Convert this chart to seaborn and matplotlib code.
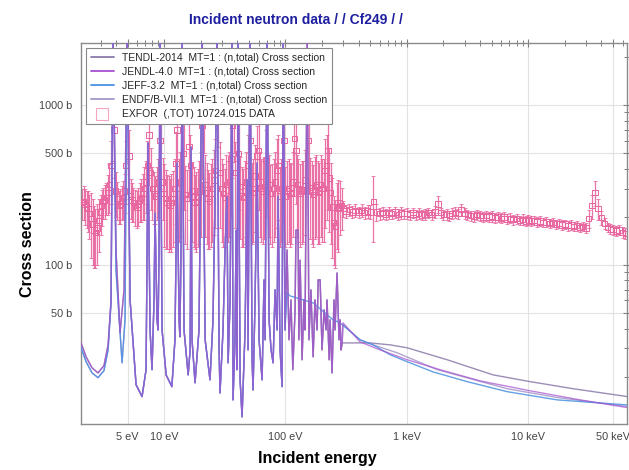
import matplotlib
matplotlib.use("Agg")
import matplotlib.pyplot as plt
from matplotlib.lines import Line2D
from matplotlib.ticker import FixedLocator, FixedFormatter, LogLocator, NullFormatter
import pandas as pd
import seaborn as sns

# ---------------- data ----------------
title = "Incident neutron data / / Cf249 / /"

# low-energy part (below the 5 eV resonance), two variants
low_a_e = [2.07, 2.28, 2.55, 2.86, 3.20, 3.46, 3.66, 3.80, 4.02, 4.34, 4.68, 4.96]
low_a_xs = [32.5, 26.6, 22.7, 21.1, 23.4, 31.6, 60.4, 3000, 124, 37.6, 69.8, 3000]
low_b_e = [2.07, 2.28, 2.55, 2.86, 3.20, 3.46, 3.66, 3.80, 4.02, 4.51, 4.77, 4.96]
low_b_xs = [30.3, 24.8, 21.1, 19.7, 21.8, 29.4, 57.9, 3000, 93.1, 24.4, 45.3, 3000]

# resolved resonances 5 eV - 100 eV (all libraries)
res1_e = [5.25, 5.88, 6.59, 7.11, 7.38, 7.67, 7.96, 8.27, 8.43, 8.75, 8.93, 9.09, 9.27,
          9.63, 10.4, 11.6, 12.3, 12.8, 13.3, 13.5, 13.8, 14.1, 14.6, 15.8, 16.4, 16.7,
          17.0, 18.0, 19.4, 20.6, 21.8, 23.9, 25.3, 26.3, 27.3, 28.4, 28.9, 30.6, 31.8,
          33.0, 33.7, 35.0, 36.3, 37.0, 38.4, 39.2, 39.9, 40.7, 42.3, 43.9, 46.5, 48.3,
          49.2, 51.1, 53.1, 54.1, 56.2, 58.4, 60.6, 64.2, 66.6, 67.9, 70.5, 73.3, 76.1,
          79.1, 82.1, 85.3, 86.9, 90.3, 93.8, 95.5, 99.2]
res1_xs = [60.4, 17.8, 15.0, 22.1, 579, 39.2, 22.1, 60.4, 211, 45.3, 39.2, 124, 3000,
           39.2, 20.5, 17.3, 34.0, 434, 45.3, 35.5, 124, 3000, 39.2, 20.5, 29.4, 546,
           34.0, 18.3, 39.2, 3000, 34.0, 19.1, 45.3, 266, 3000, 29.4, 15.8, 39.2, 124,
           266, 24.4, 60.4, 3000, 14.3, 34.0, 165, 22.1, 3000, 19.1, 11.2, 39.2, 340,
           29.4, 3000, 25.5, 16.5, 60.4, 434, 34.0, 19.1, 80.6, 34.0, 3000, 45.3, 29.4,
           24.4, 69.8, 39.2, 266, 29.4, 17.3, 3000, 39.2]

# resolved resonances 100 eV - 300 eV (TENDL, JENDL, ENDF/B)
res2_e = [103, 107, 111, 115, 120, 122, 127, 129, 132, 137, 142, 145, 151, 156, 162,
          169, 175, 182, 186, 193, 200, 208, 216, 220, 229, 233, 242, 251, 256, 266,
          276, 282, 287, 293]
res2_xs = [124, 34.0, 60.4, 22.1, 52.3, 165, 165, 34.0, 107, 25.5, 60.4, 39.2, 3000,
           34.0, 69.8, 26.6, 60.4, 39.2, 80.6, 80.6, 29.4, 52.3, 39.2, 60.4, 25.5,
           45.3, 21.1, 60.4, 39.2, 89.0, 34.0, 45.3, 29.4, 32.5]

# smooth (unresolved / fast) parts
tendl_hi_e = [497, 728, 1004, 2144, 5130, 10350, 23380, 65160]
tendl_hi_xs = [32.5, 31.6, 30.3, 25.5, 20.5, 18.6, 16.8, 15.0]
jendl_hi_e = [298, 411, 601, 1004, 1877, 4009, 10350, 26710, 65160]
jendl_hi_xs = [43.4, 33.0, 29.4, 25.5, 22.1, 18.8, 16.3, 14.3, 12.8]
jeff_hi_e = [103, 109, 169, 247, 282, 411, 527, 728, 1004, 1644, 3133, 6690, 17270, 65160]
jeff_hi_xs = [66.8, 64.0, 57.9, 45.3, 43.4, 34.0, 31.6, 27.4, 24.8, 21.4, 18.6, 16.1, 14.3, 13.3]
endf_hi_e = [298, 411, 527, 830, 1775, 6690, 17270, 65160]
endf_hi_xs = [42.2, 34.0, 31.6, 28.2, 22.1, 16.8, 14.8, 13.0]

# EXFOR 10724.015 total cross section (main grid)
exfor_e = [2.12, 2.24, 2.36, 2.50, 2.65, 2.80, 3.00, 3.15, 3.35, 3.55, 3.75, 4.00, 4.25, 4.50,
           4.75, 5.00, 5.30, 5.60, 6.00, 6.30, 6.70, 7.10, 7.50, 8.00, 8.50, 9.00, 9.50,
           10.0, 10.6, 11.2, 11.8, 12.5, 13.2, 14.0, 15.0, 16.0, 17.0, 18.0, 19.0, 20.0,
           21.2, 22.4, 23.6, 25.0, 26.5, 28.0, 30.0, 31.5, 33.5, 35.5, 37.5, 40.0, 42.5,
           45.0, 47.5, 50.0, 53.0, 56.0, 60.0, 63.0, 67.0, 71.0, 75.0, 80.0, 85.0, 90.0, 95.0,
           100, 106, 112, 118, 125, 132, 140, 150, 160, 170, 180, 190, 200, 212, 224, 236,
           250, 265, 280, 300, 315, 335, 355, 375, 400, 425, 450, 475, 500, 530, 560, 600,
           630, 670, 710, 750, 800, 850, 900, 950,
           1000, 1060, 1120, 1180, 1250, 1320, 1400, 1500, 1600, 1700, 1800, 1900, 2000,
           2120, 2240, 2360, 2500, 2650, 2800, 3000, 3150, 3350, 3550, 3750, 4000, 4250,
           4500, 4750, 5000, 5300, 5600, 6000, 6300, 6700, 7100, 7500, 8000, 8500, 9000, 9500,
           10000, 10600, 11200, 11800, 12500, 13200, 14000, 15000, 16000, 17000, 18000,
           19000, 20000, 21200, 22400, 23600, 25000, 26500, 28000, 30000, 31500, 33500,
           35500, 37500, 40000, 42500, 45000, 47500, 50000, 53000, 56000, 60000, 63000]
exfor_xs = [245, 238, 225, 195, 165, 170, 215, 250, 265, 320, 900, 290, 235, 250,
            290, 850, 270, 245, 230, 255, 280, 330, 650, 300, 270, 330, 1100,
            280, 245, 235, 260, 430, 300, 1000, 275, 550, 290, 245, 265, 330,
            1000, 285, 250, 300, 390, 1100, 300, 265, 295, 460, 1000, 900, 310,
            265, 330, 1000, 285, 360, 520, 300, 310, 1000, 280, 300, 390, 270, 950,
            270, 300, 285, 620, 320, 280, 295, 1000, 305, 275, 320, 285, 300, 390, 520, 285,
            185, 225, 245, 225, 218, 222, 215, 220, 214, 219, 212, 218, 215, 250, 214, 210,
            213, 208, 212, 209, 214, 207, 211, 209,
            210, 207, 212, 206, 210, 205, 208, 212, 206, 215, 240, 212, 206,
            208, 204, 210, 213, 209, 222, 210, 206, 204, 202, 206, 203, 200,
            204, 199, 202, 198, 200, 196, 199, 194, 196, 192, 195, 190, 193, 188,
            191, 188, 190, 186, 188, 184, 186, 182, 184, 180, 182,
            178, 180, 176, 178, 174, 176, 172, 174, 170, 195, 235,
            285, 225, 198, 182, 172, 168, 166, 163, 165, 160, 158]
exfor_err = [55, 60, 65, 85, 70, 70, 60, 55, 60, 110, 450, 90, 55, 60,
             80, 400, 75, 60, 60, 70, 90, 120, 300, 110, 90, 130, 600,
             150, 120, 110, 130, 250, 160, 500, 140, 300, 150, 120, 135, 180,
             500, 150, 125, 160, 220, 550, 160, 135, 155, 260, 500, 450, 165,
             135, 180, 500, 150, 200, 300, 160, 165, 500, 145, 160, 220, 140, 450,
             140, 160, 150, 350, 170, 150, 155, 500, 160, 145, 170, 150, 160, 220, 300, 150,
             85, 100, 90, 25, 20, 20, 18, 20, 18, 20, 18, 20, 22, 110, 25, 18,
             18, 16, 18, 16, 18, 16, 18, 16,
             16, 15, 16, 15, 16, 15, 16, 16, 15, 18, 30, 16, 15,
             16, 15, 16, 16, 15, 20, 16, 15, 15, 15, 15, 15, 14,
             15, 14, 15, 14, 14, 14, 14, 14, 14, 13, 14, 13, 14, 13,
             13, 13, 13, 13, 13, 12, 13, 12, 12, 12, 12,
             12, 12, 12, 12, 12, 12, 12, 12, 12, 25, 40,
             50, 35, 20, 15, 12, 12, 12, 12, 12, 12, 12]

# EXFOR points lying between the above in the resonance region
exfor2_e = [2.18, 2.30, 2.43, 2.58, 2.72, 2.90, 3.07, 3.25, 3.45, 3.65, 3.87, 4.12, 4.37,
            4.62, 4.87, 5.15, 5.45, 5.80, 6.15, 6.50, 6.90, 7.30, 7.75, 8.25, 8.75, 9.25,
            9.75, 10.3, 10.9, 11.5, 12.2, 12.8, 13.6, 14.5, 15.5, 16.5, 17.5, 18.5, 19.5,
            20.6, 21.8, 23.0, 24.3, 25.8, 27.2, 29.0, 30.7, 32.5, 34.5, 36.5, 38.7, 41.2,
            43.7, 46.2, 48.7, 51.5, 54.5, 58.0, 61.5, 65.0, 69.0, 73.0, 77.5, 82.5, 87.5,
            92.5, 97.5, 103, 109, 115, 122, 128, 136, 145, 155, 165, 175, 185, 195, 206,
            218, 230, 243, 258, 272, 290]
exfor2_xs = [250, 230, 210, 180, 160, 190, 235, 255, 285, 420, 700, 260, 240,
             265, 420, 480, 255, 235, 240, 265, 300, 420, 380, 280, 300, 600,
             330, 260, 240, 245, 300, 700, 330, 500, 260, 420, 270, 250, 290,
             750, 320, 260, 280, 340, 800, 380, 280, 320, 330, 750, 380, 500,
             270, 290, 420, 600, 300, 480, 330, 290, 450, 320, 280, 330, 420,
             300, 600, 290, 280, 330, 520, 300, 290, 340, 600, 290, 310, 290, 320, 300,
             420, 350, 230, 175, 230, 235]
exfor2_err = [60, 60, 65, 80, 65, 70, 60, 60, 80, 180, 350, 70, 60,
              70, 180, 220, 70, 60, 65, 80, 110, 180, 160, 100, 110, 300,
              140, 135, 120, 125, 160, 380, 180, 280, 135, 230, 140, 130, 155,
              400, 170, 135, 150, 185, 420, 210, 150, 170, 180, 400, 210, 280,
              140, 155, 230, 320, 160, 260, 180, 155, 250, 170, 150, 180, 230,
              160, 320, 155, 150, 180, 280, 160, 155, 185, 320, 155, 165, 155, 170, 160,
              230, 190, 120, 80, 110, 70]

libraries = ["TENDL-2014", "JENDL-4.0", "JEFF-3.2", "ENDF/B-VII.1"]
legend_labels = ["TENDL-2014  MT=1 : (n,total) Cross section",
                 "JENDL-4.0  MT=1 : (n,total) Cross section",
                 "JEFF-3.2  MT=1 : (n,total) Cross section",
                 "ENDF/B-VII.1  MT=1 : (n,total) Cross section",
                 "EXFOR  (,TOT) 10724.015 DATA"]

x_tick_vals = [5, 10, 100, 1000, 10000, 50000]
x_tick_labels = ["5 eV", "10 eV", "100 eV", "1 keV", "10 keV", "50 keV"]
y_tick_vals = [50, 100, 500, 1000]
y_tick_labels = ["50 b", "100 b", "500 b", "1000 b"]

# ---------------- assemble curves ----------------
curves = {
    "TENDL-2014": (low_a_e + res1_e + res2_e + tendl_hi_e,
                   low_a_xs + res1_xs + res2_xs + tendl_hi_xs),
    "JENDL-4.0": (low_a_e + res1_e + res2_e + jendl_hi_e,
                  low_a_xs + res1_xs + res2_xs + jendl_hi_xs),
    "JEFF-3.2": (low_b_e + res1_e + jeff_hi_e,
                 low_b_xs + res1_xs + jeff_hi_xs),
    "ENDF/B-VII.1": (low_b_e + res1_e + res2_e + endf_hi_e,
                     low_b_xs + res1_xs + res2_xs + endf_hi_xs),
}
colors = {"TENDL-2014": "#8a7aaa", "JENDL-4.0": "#a64fd0",
          "JEFF-3.2": "#4a90e2", "ENDF/B-VII.1": "#a496c8"}
alphas = {"TENDL-2014": 0.85, "JENDL-4.0": 0.7, "JEFF-3.2": 0.85, "ENDF/B-VII.1": 0.85}
draw_order = ["ENDF/B-VII.1", "TENDL-2014", "JEFF-3.2", "JENDL-4.0"]
pink = "#e8649e"

sns.set_theme(style="white")
plt.rcParams['font.family'] = ['Liberation Sans', 'DejaVu Sans']

fig = plt.figure(figsize=(6.29, 4.70), dpi=100)
ax = fig.add_axes([81 / 629, 46 / 470, 546 / 629, 381 / 470])
ax.set_xscale('log')
ax.set_yscale('log')

# EXFOR points with error bars
for ee, yy, er in [(exfor_e, exfor_xs, exfor_err), (exfor2_e, exfor2_xs, exfor2_err)]:
    ax.errorbar(ee, yy, yerr=er, fmt='none', ecolor=pink,
                elinewidth=0.9, capsize=1.2, capthick=0.6, alpha=0.9, zorder=2)
    sns.scatterplot(x=ee, y=yy, marker='s', s=15, facecolor='none',
                    edgecolor=pink, linewidth=0.7, ax=ax, zorder=3, legend=False)

for lib in draw_order:
    e, xs = curves[lib]
    df = pd.DataFrame({"E": e, "xs": xs})
    sns.lineplot(data=df, x="E", y="xs", sort=False, estimator=None,
                 color=colors[lib], lw=1.0, alpha=alphas[lib], ax=ax, zorder=4)

ax.set_xlim(2.07, 65000)
ax.set_ylim(10.1, 2450)

ax.xaxis.set_major_locator(FixedLocator(x_tick_vals))
ax.xaxis.set_major_formatter(FixedFormatter(x_tick_labels))
ax.xaxis.set_minor_locator(LogLocator(base=10, subs=[1, 2, 3, 4, 5, 6, 7, 8, 9], numticks=20))
ax.xaxis.set_minor_formatter(NullFormatter())
ax.yaxis.set_major_locator(FixedLocator(y_tick_vals))
ax.yaxis.set_major_formatter(FixedFormatter(y_tick_labels))
ax.yaxis.set_minor_locator(LogLocator(base=10, subs=[1, 2, 3, 4, 6, 7, 8, 9], numticks=20))
ax.yaxis.set_minor_formatter(NullFormatter())

ax.grid(True, which='major', color='#e2e2e2', lw=0.8)
ax.set_axisbelow(True)
ax.tick_params(which='both', direction='inout', top=True, right=True,
               color='#808080', labelsize=7.8, labelcolor='#444444', pad=3)
ax.tick_params(which='major', length=6, width=0.8)
ax.tick_params(which='minor', length=4, width=0.7)
for sp in ax.spines.values():
    sp.set_color('#8a8a8a')
    sp.set_linewidth(1.0)
ax.set_xlabel("")
ax.set_ylabel("")

handles = [Line2D([], [], color=colors[l], lw=1.3) for l in libraries]
handles.append(Line2D([], [], marker='s', ls='none', ms=9, mfc='none',
                      mec='#f2a6c4', mew=0.8))
leg = ax.legend(handles, legend_labels, loc='upper left', bbox_to_anchor=(0.009, 0.987),
                borderaxespad=0, fontsize=7.5, frameon=True, fancybox=False,
                edgecolor='#888888', framealpha=1, handlelength=2.2, handletextpad=0.8,
                labelspacing=0.4, borderpad=0.45)
leg.set_zorder(10)
leg.get_frame().set_linewidth(0.8)

fig.text(296 / 629, 1 - 20 / 470, title, ha='center', va='center', fontsize=10,
         fontweight='bold', color='#1e1ea0')
fig.text(28 / 629, 1 - 244 / 470, "Cross section", rotation=90, ha='center', va='center',
         fontsize=11.5, fontweight='bold', color='black')
fig.text(317 / 629, 1 - 459 / 470, "Incident energy", ha='center', va='center',
         fontsize=11.5, fontweight='bold', color='black')

fig.savefig("out.png", dpi=100, facecolor='white')
